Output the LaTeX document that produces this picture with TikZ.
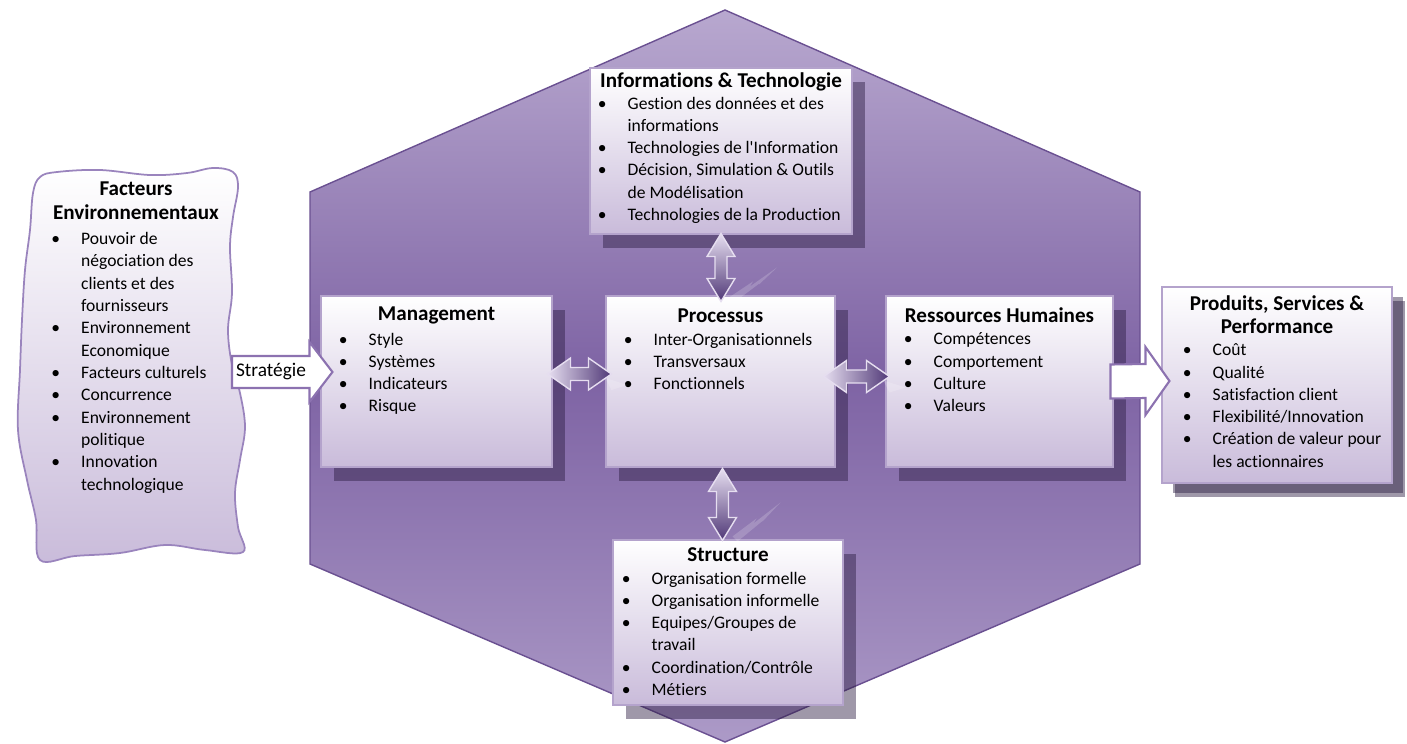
\documentclass[tikz,border=0pt]{standalone}
\usepackage{fontspec}
\setmainfont{Carlito}[Ligatures={NoCommon,NoRare}]
\usepackage{tikz}
\usetikzlibrary{calc,positioning,shadows}
\definecolor{hextop}{HTML}{B8A8CF}
\definecolor{hexmid}{HTML}{7E63A4}
\definecolor{hexbot}{HTML}{AC9AC7}
\definecolor{hexline}{HTML}{6A5091}
\definecolor{boxlow}{HTML}{C9BBDA}
\definecolor{boxline}{HTML}{B4A3CC}
\definecolor{shade}{HTML}{2A1B40}
\definecolor{cloudline}{HTML}{9A84BD}
\definecolor{arrline}{HTML}{8C72B0}
\definecolor{arrdark}{HTML}{503877}
\definecolor{arrlight}{HTML}{E6DEF0}
\newlength\pxl
\setlength\pxl{0.2mm}
\newcommand\bul{\makebox[17pt][l]{\textbullet}}
\newcommand\ind{\hspace*{17pt}}
\tikzset{
  box/.style={draw=boxline, line width=0.6pt, top color=white, bottom color=boxlow, inner sep=0pt,
    drop shadow={fill=shade, fill opacity=0.45, shadow xshift=13\pxl, shadow yshift=-14\pxl}},
  ttl/.style={font=\fontsize{12}{13.4}\selectfont\bfseries, align=center, inner sep=0pt},
  items/.style={font=\fontsize{10}{12.7}\selectfont, align=left, inner sep=0pt, anchor=north west},
  blockarrow/.style={fill=white, draw=arrline, line width=1.2pt},
  dblarrow/.style={draw=arrlight, line width=0.8pt},
  glint/.style={fill=white, fill opacity=0.18, draw=none}
}

\begin{document}
\begin{tikzpicture}[x=0.2mm, y=-0.2mm]
  \useasboundingbox (0,0) rectangle (1407,744);

  % hexagone
  \draw[hexline, line width=0.8pt, top color=hextop, bottom color=hexbot, middle color=hexmid]
    (725,10) -- (1140,192) -- (1140,564) -- (725,742) -- (310,564) -- (310,192) -- cycle;

  % nuage
  \draw[cloudline, line width=1pt, top color=white, bottom color=boxlow]
    plot[smooth cycle, tension=0.6] coordinates {
      (33,193) (40,177) (57,172) (100,170) (150,175) (187,173) (213,168) (233,172)
      (238,187) (233,217) (230,247) (232,293) (228,330) (232,365) (240,393) (245,427)
      (240,460) (235,493) (238,527) (243,552) (205,550) (165,545) (120,553) (75,556)
      (40,560) (36,520) (27,480) (18,430) (20,370) (22,320) (25,270) (30,230)};
  \node[ttl] (env-t) at (136,201) {Facteurs\\Environnementaux};
  \node[items] (env-l) at (51,232) {\bul Pouvoir de\\ \ind négociation des\\ \ind clients et des\\
    \ind fournisseurs\\ \bul Environnement\\ \ind Economique\\ \bul Facteurs culturels\\
    \bul Concurrence\\ \bul Environnement\\ \ind politique\\ \bul Innovation\\ \ind technologique};

  % boites
  \node[box, minimum width=262\pxl, minimum height=166\pxl] (info) at (721,151) {};
  \node[box, minimum width=231\pxl, minimum height=171\pxl] (mgmt) at (436.5,381.5) {};
  \node[box, minimum width=229\pxl, minimum height=171\pxl] (proc) at (720.5,381.5) {};
  \node[box, minimum width=227\pxl, minimum height=171\pxl] (rh) at (999.5,381.5) {};
  \node[box, minimum width=230\pxl, minimum height=165\pxl] (struct) at (728,622.5) {};
  \node[box, minimum width=230\pxl, minimum height=196\pxl,
    drop shadow={fill=shade, fill opacity=0.45, shadow xshift=11\pxl, shadow yshift=-10\pxl}] (prod) at (1277,385) {};

  \node[ttl] (info-t) at ($(info.north)+(0,14)$) {Informations \& Technologie};
  \node[items] (info-l) at ($(info.north west)+(8,29)$) {\bul Gestion des données et des\\
    \ind informations\\ \bul Technologies de l\textquotesingle Information\\ \bul Décision, Simulation \& Outils\\
    \ind de Modélisation\\ \bul Technologies de la Production};

  \node[ttl] (mgmt-t) at ($(mgmt.north)+(0,20)$) {Management};
  \node[items] (mgmt-l) at ($(mgmt.north west)+(18,37)$) {\bul Style\\ \bul Systèmes\\
    \bul Indicateurs\\ \bul Risque};

  \node[ttl] (proc-t) at ($(proc.north)+(0,20)$) {Processus};
  \node[items] (proc-l) at ($(proc.north west)+(18,37)$) {\bul Inter-Organisationnels\\
    \bul Transversaux\\ \bul Fonctionnels};

  \node[ttl] (rh-t) at ($(rh.north)+(0,20)$) {Ressources Humaines};
  \node[items] (rh-l) at ($(rh.north west)+(18,37)$) {\bul Compétences\\ \bul Comportement\\
    \bul Culture\\ \bul Valeurs};

  \node[ttl] (struct-t) at ($(struct.north)+(0,15)$) {Structure};
  \node[items] (struct-l) at ($(struct.north west)+(9,32)$) {\bul Organisation formelle\\
    \bul Organisation informelle\\ \bul Equipes/Groupes de\\ \ind travail\\
    \bul Coordination/Contrôle\\ \bul Métiers};

  \node[ttl] (prod-t) at ($(prod.north)+(0,28)$) {Produits, Services \&\\Performance};
  \node[items] (prod-l) at ($(prod.north west)+(21,57)$) {\bul Coût\\ \bul Qualité\\
    \bul Satisfaction client\\ \bul Flexibilité/Innovation\\ \bul Création de valeur pour\\
    \ind les actionnaires};

  % fleche strategie
  \coordinate (strat-s) at (232,372);
  \coordinate (strat-e) at ($(mgmt.west)+(12,-9.5)$);
  \draw[blockarrow] (strat-s) ++(0,-16) -- ($(strat-e)+(-23,-16)$) -- ($(strat-e)+(-23,-30)$)
    -- (strat-e) -- ($(strat-e)+(-23,30)$) -- ($(strat-e)+(-23,16)$) -- ($(strat-s)+(0,16)$) -- cycle;
  \node[font=\fontsize{11}{12}\selectfont, inner sep=0pt] (strat) at ($(strat-s)+(39,0)$) {Stratégie};

  % fleche sortie
  \coordinate (out-s) at ($(rh.east)+(-3,0)$);
  \coordinate (out-e) at ($(prod.west)+(8,-4)$);
  \draw[blockarrow] (out-s) ++(0,-17) -- ($(out-e)+(-24,-17)$) -- ($(out-e)+(-24,-34)$)
    -- (out-e) -- ($(out-e)+(-24,34)$) -- ($(out-e)+(-24,17)$) -- ($(out-s)+(0,17)$) -- cycle;

  % doubles fleches horizontales
  \coordinate (mp-l) at ($(mgmt.east)+(-5,-7.5)$);
  \coordinate (mp-r) at ($(proc.west)+(6,-7.5)$);
  \draw[dblarrow, left color=arrlight, right color=arrdark]
    (mp-l) -- ++(23,-16) -- ++(0,9.5) -- ($(mp-r)+(-23,-6.5)$) -- ++(0,-9.5) -- (mp-r)
    -- ++(-23,16) -- ++(0,-9.5) -- ($(mp-l)+(23,6.5)$) -- ++(0,9.5) -- cycle;
  \coordinate (pr-l) at ($(proc.east)+(-12,-5)$);
  \coordinate (pr-r) at ($(rh.west)+(4,-5)$);
  \draw[dblarrow, left color=arrlight, right color=arrdark]
    (pr-l) -- ++(23,-16) -- ++(0,9.5) -- ($(pr-r)+(-23,-6.5)$) -- ++(0,-9.5) -- (pr-r)
    -- ++(-23,16) -- ++(0,-9.5) -- ($(pr-l)+(23,6.5)$) -- ++(0,9.5) -- cycle;

  % doubles fleches verticales
  \coordinate (ip-t) at ($(info.south)+(0,-1)$);
  \coordinate (ip-b) at ($(ip-t |- proc.north)+(0,6)$);
  \draw[dblarrow, top color=arrlight, bottom color=arrdark]
    (ip-t) -- ++(-14,23) -- ++(8,0) -- ($(ip-b)+(-6,-23)$) -- ++(-8,0) -- (ip-b)
    -- ++(14,-23) -- ++(-8,0) -- ($(ip-t)+(6,23)$) -- ++(8,0) -- cycle;
  \coordinate (ps-t) at ($(proc.south)+(2,1)$);
  \coordinate (ps-b) at ($(ps-t |- struct.north)+(0,1)$);
  \draw[dblarrow, top color=arrlight, bottom color=arrdark]
    (ps-t) -- ++(-14,23) -- ++(8,0) -- ($(ps-b)+(-6,-23)$) -- ++(-8,0) -- (ps-b)
    -- ++(14,-23) -- ++(-8,0) -- ($(ps-t)+(6,23)$) -- ++(8,0) -- cycle;

  % reflets
  \fill[glint] ($(ip-b)+(8,-4)$) -- ++(24,-16) -- ++(-3,5) -- ++(27,-19) -- ++(-18,17) -- ++(3,-3) -- ++(-28,21) -- cycle;
  \fill[glint] ($(ps-b)+(10,-4)$) -- ++(24,-18) -- ++(-3,5) -- ++(27,-21) -- ++(-18,19) -- ++(3,-3) -- ++(-28,23) -- cycle;
  \fill[glint] ($(mp-r)+(-6,4)$) -- ++(22,7) -- ++(-16,5) -- cycle;
  \fill[glint] ($(pr-r)+(-6,4)$) -- ++(22,7) -- ++(-16,5) -- cycle;
\end{tikzpicture}
\end{document}
